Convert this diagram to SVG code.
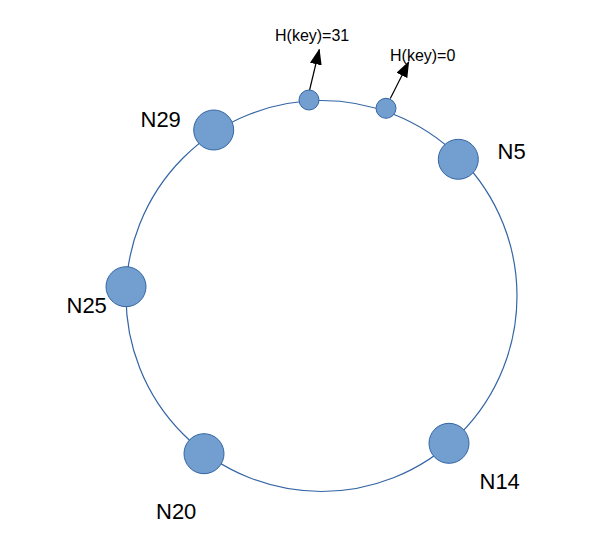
<svg xmlns="http://www.w3.org/2000/svg" width="615" height="553" viewBox="0 0 615 553">
<style>
.ring{fill:none;stroke:#3465a4;stroke-width:1.2}
.node{fill:#729fcf;stroke:#3465a4;stroke-width:1}
.lbl{font-family:"Liberation Sans",Arial,sans-serif;font-size:22px;fill:#000}
.key{font-family:"Liberation Sans",Arial,sans-serif;font-size:16px;fill:#000}
.arr{stroke:#000;stroke-width:1.2;fill:none;marker-end:url(#ah)}
</style>
<defs>
<marker id="ah" viewBox="0 0 16 12" refX="15" refY="6" markerWidth="16" markerHeight="12" markerUnits="userSpaceOnUse" orient="auto">
<path d="M0,0 L16,6 L0,12 Z" fill="#000"/>
</marker>
</defs>
<rect width="615" height="553" fill="#fff"/>
<g id="ring"><circle class="ring" cx="321.5" cy="296" r="195.5"/></g>
<g id="connectors">
<line class="arr" x1="309.6" y1="90" x2="319.3" y2="49.5"/>
<line class="arr" x1="390.3" y1="98.5" x2="408.7" y2="62"/>
</g>
<g id="N29"><circle class="node" cx="213.7" cy="130" r="20"/><text class="lbl" x="140.5" y="127">N29</text></g>
<g id="N5"><circle class="node" cx="458.3" cy="159.3" r="20"/><text class="lbl" x="497.5" y="158.5">N5</text></g>
<g id="N25"><circle class="node" cx="126" cy="286.7" r="20"/><text class="lbl" x="66.5" y="313">N25</text></g>
<g id="N20"><circle class="node" cx="204" cy="453.7" r="20"/><text class="lbl" x="156" y="519">N20</text></g>
<g id="N14"><circle class="node" cx="449" cy="443.3" r="20"/><text class="lbl" x="479.5" y="488.5">N14</text></g>
<g id="key31"><circle class="node" cx="309" cy="100" r="10"/><text class="key" x="275" y="41">H(key)=31</text></g>
<g id="key0"><circle class="node" cx="386" cy="108.3" r="10"/><text class="key" x="390" y="61">H(key)=0</text></g>
</svg>
